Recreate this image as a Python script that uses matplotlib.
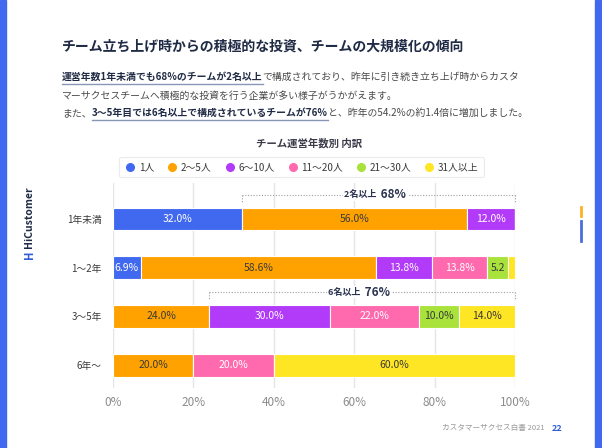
import numpy as np
import matplotlib
matplotlib.use("Agg")
import matplotlib.pyplot as plt
from matplotlib.lines import Line2D

plt.rcParams['font.family'] = ['Noto Sans CJK JP', 'DejaVu Sans']

# データ
rows = ["1年未満", "1〜2年", "3〜5年", "6年〜"]
groups = ["1人", "2〜5人", "6〜10人", "11〜20人", "21〜30人", "31人以上"]
values = {
    "1人":      [32.0, 6.9, 0.0, 0.0],
    "2〜5人":   [56.0, 58.6, 24.0, 20.0],
    "6〜10人":  [12.0, 13.8, 30.0, 0.0],
    "11〜20人": [0.0, 13.8, 22.0, 20.0],
    "21〜30人": [0.0, 5.2, 10.0, 0.0],
    "31人以上": [0.0, 1.7, 14.0, 60.0],
}
# 表示ラベル（空文字は非表示）
labels = {
    "1人":      ["32.0%", "6.9%", "", ""],
    "2〜5人":   ["56.0%", "58.6%", "24.0%", "20.0%"],
    "6〜10人":  ["12.0%", "13.8%", "30.0%", ""],
    "11〜20人": ["", "13.8%", "22.0%", "20.0%"],
    "21〜30人": ["", "5.2", "10.0%", ""],
    "31人以上": ["", "", "14.0%", "60.0%"],
}
colors = ["#4169F0", "#FFA200", "#B23BFA", "#FF6AAE", "#A9E23A", "#FFE625"]
label_colors = ["white", "#3a3a3a", "white", "white", "#3a3a3a", "#3a3a3a"]
xticks = [0, 20, 40, 60, 80, 100]
xtick_labels = ["0%", "20%", "40%", "60%", "80%", "100%"]

# ブラケット注記: (行, 開始, 終了, ラベル, 値)
brackets = [(0, 32.0, 100.0, "2名以上", "68%"), (2, 24.0, 100.0, "6名以上", "76%")]

W, H = 602, 448
fig = plt.figure(figsize=(W / 100, H / 100), dpi=100)
fig.patch.set_facecolor("white")


def fx(px):
    return px / W


def fy(py):
    return 1 - py / H


# 左右の青い枠
fig.patches.append(plt.Rectangle((0, 0), fx(6), 1, transform=fig.transFigure, color="#4169F0", zorder=0))
fig.patches.append(plt.Rectangle((fx(595), 0), fx(7), 1, transform=fig.transFigure, color="#4169F0", zorder=0))

# 右側の小さなマーク
fig.add_artist(Line2D([fx(581), fx(581)], [fy(207), fy(216)], transform=fig.transFigure, color="#FFB020", lw=2))
fig.add_artist(Line2D([fx(581), fx(581)], [fy(221), fy(241)], transform=fig.transFigure, color="#4A6FD8", lw=2))

# ロゴ
fig.text(fx(29), fy(217), "HiCustomer", rotation=90, ha="center", va="center",
         fontsize=7.5, fontweight="bold", color="#1f2a44")
fig.text(fx(29), fy(255), "H", rotation=90, ha="center", va="center",
         fontsize=8, fontweight="bold", color="#2F5BD8")

# タイトル
fig.text(fx(62), fy(47), "チーム立ち上げ時からの積極的な投資、チームの大規模化の傾向",
         ha="left", va="center", fontsize=10, fontweight="bold", color="#1f2a44")

# 本文（太字＋下線部分を連続描画）
renderer = fig.canvas.get_renderer()


def draw_runs(x_px, y_px, runs, size=7.1):
    x = fx(x_px)
    for text, bold in runs:
        t = fig.text(x, fy(y_px), text, ha="left", va="center", fontsize=size,
                     fontweight="bold" if bold else "normal",
                     color="#1f2a44" if bold else "#4a4a4a")
        bb = t.get_window_extent(renderer=renderer)
        x1 = bb.x1 / fig.dpi / fig.get_figwidth()
        if bold:
            fig.add_artist(Line2D([x, x1], [fy(y_px + 7), fy(y_px + 7)],
                                  transform=fig.transFigure, color="#8a96b8", lw=1))
        x = x1


draw_runs(62, 77, [("運営年数1年未満でも68%のチームが2名以上", True),
                   ("で構成されており、昨年に引き続き立ち上げ時からカスタ", False)])
draw_runs(62, 96, [("マーサクセスチームへ積極的な投資を行う企業が多い様子がうかがえます。", False)])
draw_runs(62, 113, [("また、", False), ("3〜5年目では6名以上で構成されているチームが76%", True),
                    ("と、昨年の54.2%の約1.4倍に増加しました。", False)])

# チャートタイトル
fig.text(fx(309), fy(143), "チーム運営年数別 内訳", ha="center", va="center",
         fontsize=7.5, fontweight="bold", color="#3a3a4a")

# メインの軸
ax = fig.add_axes([fx(113), fy(388), fx(402), fy(183) - fy(388)])
y = np.arange(len(rows))
left = np.zeros(len(rows))
for i, g in enumerate(groups):
    v = np.array(values[g])
    ax.barh(y, v, left=left, height=0.47, color=colors[i], edgecolor="white", linewidth=0.8, zorder=3)
    for j in range(len(rows)):
        if labels[g][j]:
            ax.text(left[j] + v[j] / 2, y[j], labels[g][j], ha="center", va="center",
                    fontsize=7.5, color=label_colors[i], zorder=4)
    left += v

ax.set_xlim(0, 100)
ax.set_ylim(3.47, -0.74)
ax.set_xticks(xticks)
ax.set_xticklabels(xtick_labels, fontsize=8.5, color="#8c8c8c")
ax.set_yticks(y)
ax.set_yticklabels(rows, fontsize=7, color="#3a3a3a")
ax.tick_params(length=0, pad=6)
ax.tick_params(axis="y", pad=8)
ax.grid(axis="x", color="#e4e4ea", lw=1, zorder=0)
for s in ax.spines.values():
    s.set_visible(False)

# ブラケット
for r, x0, x1, lab, val in brackets:
    yb = r - 0.5
    kw = dict(ls=(0, (1, 1.5)), color="#a0a0a0", lw=0.8, zorder=2, clip_on=False)
    ax.plot([x0, x1], [yb, yb], **kw)
    ax.plot([x0, x0], [yb, yb + 0.14], **kw)
    ax.plot([x1, x1], [yb, yb + 0.14], **kw)
    xc = (x0 + x1) / 2
    ax.text(xc, yb, lab + " ", ha="right", va="center", fontsize=6.5, fontweight="bold",
            color="#2a3350", zorder=5, bbox=dict(facecolor="white", edgecolor="none", pad=1))
    ax.text(xc, yb, " " + val, ha="left", va="center", fontsize=8.5, fontweight="bold",
            color="#2a3350", zorder=5, bbox=dict(facecolor="white", edgecolor="none", pad=1))

# 凡例
handles = [Line2D([], [], marker="o", ls="", markersize=5.5, markerfacecolor=c, markeredgecolor=c)
           for c in colors]
leg = fig.legend(handles, groups, loc="center", bbox_to_anchor=(fx(301.5), fy(167)), ncol=6,
                 fontsize=7.1, frameon=True, handletextpad=0.25, columnspacing=1.25,
                 handlelength=1.2, borderpad=0.55, fancybox=True)
leg.get_frame().set_edgecolor("#e6e6ea")
leg.get_frame().set_linewidth(0.8)
for t in leg.get_texts():
    t.set_color("#3a3a3a")

# フッター
fig.text(fx(545), fy(428), "カスタマーサクセス白書 2021", ha="right", va="center", fontsize=5.5, color="#9a9a9a")
fig.text(fx(552), fy(428), "22", ha="left", va="center", fontsize=6.5, fontweight="bold", color="#2F5BD8")

fig.savefig("out.png", dpi=100, facecolor="white")
